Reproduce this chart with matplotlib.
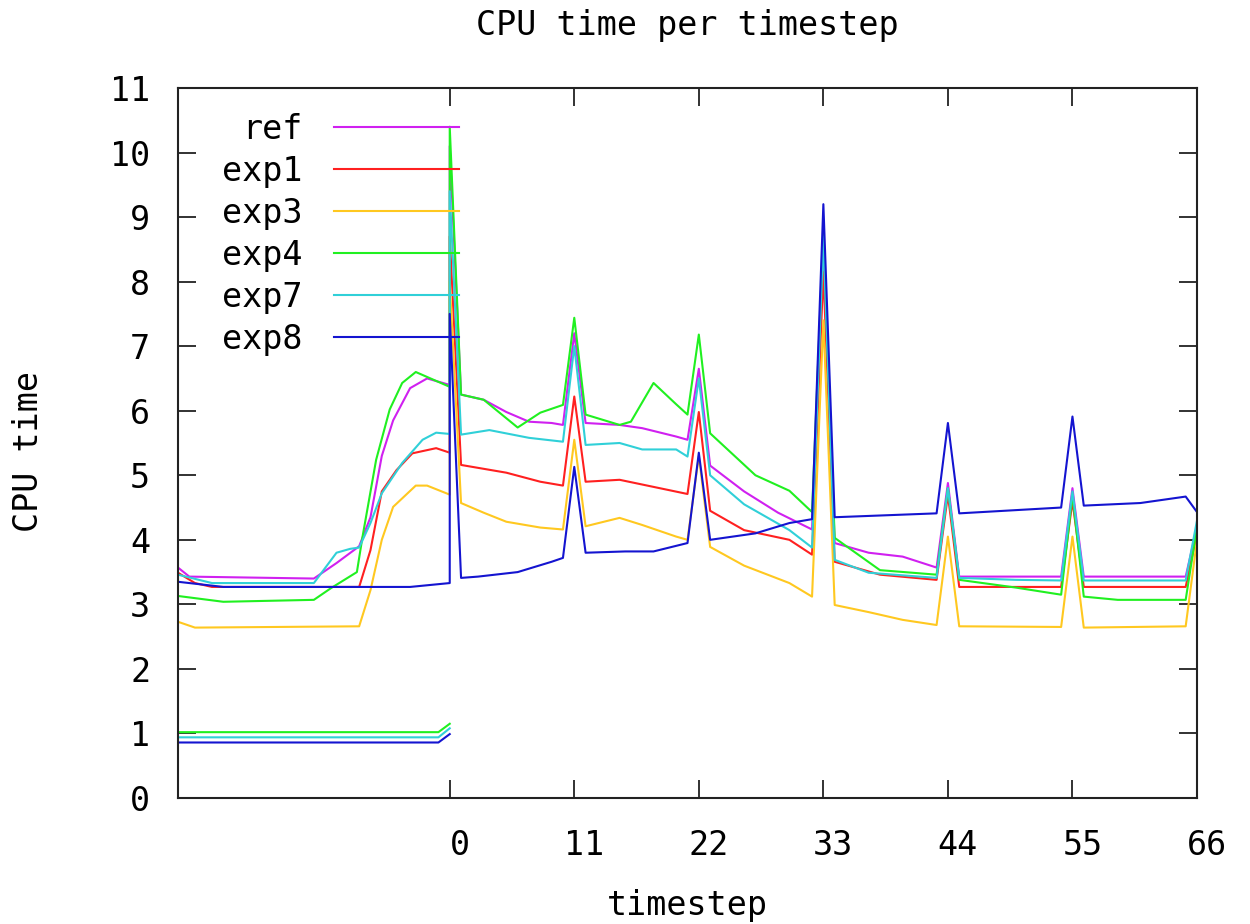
import matplotlib
matplotlib.use("Agg")
import matplotlib.pyplot as plt
from matplotlib.transforms import ScaledTranslation

# breakpoints (timestep, CPU time)
ref_x = [-24, -23, -12, -10, -8, -7, -6, -5, -3.5, -2, 0, 0, 1, 3, 5, 7, 9, 10, 11, 12,
         15, 17, 20, 21, 22, 23, 26, 29, 32, 33, 34, 37, 40, 43, 44, 45, 54, 55, 56, 65, 66]
ref_y = [3.57, 3.43, 3.40, 3.64, 3.90, 4.35, 5.30, 5.85, 6.35, 6.50, 6.40, 10.1, 6.25, 6.17,
         5.98, 5.83, 5.81, 5.78, 7.20, 5.81, 5.78, 5.73, 5.60, 5.55, 6.65, 5.15, 4.75, 4.42,
         4.16, 8.60, 3.95, 3.80, 3.74, 3.57, 4.88, 3.43, 3.43, 4.80, 3.43, 3.43, 4.20]

exp1_x = [-24, -22.5, -21, -8, -7, -6, -4.7, -3.3, -1.2, 0, 0, 1, 5, 8, 10, 11, 12, 15, 18,
          21, 22, 23, 26, 30, 32, 33, 34, 38, 43, 44, 45, 54, 55, 56, 65, 66]
exp1_y = [3.49, 3.33, 3.27, 3.27, 3.84, 4.75, 5.08, 5.34, 5.42, 5.35, 8.70, 5.16, 5.04, 4.90,
          4.84, 6.22, 4.90, 4.93, 4.82, 4.71, 5.98, 4.45, 4.15, 4.00, 3.77, 8.15, 3.66, 3.46,
          3.38, 4.70, 3.27, 3.27, 4.60, 3.27, 3.27, 4.10]

exp3_x = [-24, -22.5, -8, -7, -6, -5, -3, -2, 0, 0, 1, 3, 5, 8, 10, 11, 12, 15, 17, 20, 21,
          22, 23, 26, 30, 32, 33, 34, 37, 40, 43, 44, 45, 54, 55, 56, 65, 66]
exp3_y = [2.73, 2.64, 2.66, 3.22, 4.00, 4.51, 4.84, 4.84, 4.70, 8.00, 4.57, 4.42, 4.28, 4.19,
          4.16, 5.55, 4.21, 4.34, 4.23, 4.05, 4.00, 5.30, 3.89, 3.60, 3.33, 3.12, 7.40, 2.99,
          2.88, 2.76, 2.68, 4.05, 2.66, 2.65, 4.05, 2.64, 2.66, 4.00]

exp4_x = [-24, -20, -12, -10.5, -8.2, -7.7, -6.5, -5.3, -4.2, -3, 0, 0, 1, 3, 6, 8, 10, 11,
          12, 15, 16, 18, 20, 21, 22, 23, 27, 30, 32, 33, 34, 38, 43, 44, 45, 50, 54, 55, 56,
          59, 65, 66]
exp4_y = [3.13, 3.04, 3.07, 3.25, 3.50, 4.05, 5.24, 6.02, 6.43, 6.60, 6.37, 10.4, 6.25, 6.17,
          5.74, 5.97, 6.09, 7.44, 5.94, 5.78, 5.83, 6.43, 6.10, 5.94, 7.18, 5.65, 5.00, 4.76,
          4.43, 8.76, 4.03, 3.53, 3.46, 4.80, 3.38, 3.26, 3.15, 4.70, 3.12, 3.07, 3.07, 4.20]

exp7_x = [-24, -21, -12, -10, -8.8, -8, -7, -6, -4.2, -2.4, -1.2, 0, 0, 1, 3.5, 7, 10, 11,
          12, 15, 17, 20, 21, 22, 23, 26, 30, 32, 33, 34, 37, 43, 44, 45, 50, 54, 55, 56,
          65, 66]
exp7_y = [3.46, 3.33, 3.33, 3.80, 3.86, 3.88, 4.26, 4.72, 5.19, 5.55, 5.66, 5.64, 9.40, 5.63,
          5.70, 5.58, 5.52, 7.00, 5.47, 5.50, 5.40, 5.40, 5.29, 6.50, 5.00, 4.55, 4.15, 3.88,
          8.70, 3.69, 3.49, 3.41, 4.80, 3.41, 3.38, 3.37, 4.75, 3.37, 3.37, 4.30]

exp8_x = [-24, -20, -3.5, 0, 0, 1, 2.5, 6, 9, 10, 11, 12, 15.5, 18, 21, 22, 23, 27, 30, 32,
          33, 34, 37, 43, 44, 45, 50, 54, 55, 56, 61, 65, 66]
exp8_y = [3.35, 3.27, 3.27, 3.33, 7.50, 3.41, 3.43, 3.50, 3.66, 3.72, 5.13, 3.80, 3.82, 3.82,
          3.95, 5.35, 4.00, 4.10, 4.26, 4.32, 9.20, 4.35, 4.37, 4.41, 5.81, 4.41, 4.46, 4.50,
          5.91, 4.53, 4.57, 4.67, 4.43]

# spin-up runs plotted near 1.0
low_x = [-24, -1, 0]
low4_y = [1.02, 1.02, 1.15]
low7_y = [0.94, 0.94, 1.08]
low8_y = [0.86, 0.86, 0.99]

names = ["ref", "exp1", "exp3", "exp4", "exp7", "exp8"]
colors = ["#d020f0", "#ff2020", "#ffc820", "#20f020", "#30d0d8", "#1414d0"]
xticks = [0, 11, 22, 33, 44, 55, 66]

plt.rcParams["font.family"] = ["DejaVu Sans Mono", "DejaVu Sans"]
FS = 24

fig = plt.figure(figsize=(12.5, 9.24), dpi=100)
ax = fig.add_axes([178 / 1250, 1 - 798 / 924, 1019 / 1250, 710 / 924])

series = [(ref_x, ref_y), (exp1_x, exp1_y), (exp3_x, exp3_y),
          (exp4_x, exp4_y), (exp7_x, exp7_y), (exp8_x, exp8_y)]
for (xs, ys), name, c in zip(series, names, colors):
    ax.plot(xs, ys, color=c, lw=1.5, label=name)

ax.plot(low_x, low4_y, color=colors[3], lw=1.5)
ax.plot(low_x, low7_y, color=colors[4], lw=1.5)
ax.plot(low_x, low8_y, color=colors[5], lw=1.5)

ax.set_xlim(-24, 66)
ax.set_ylim(0, 11)
ax.set_xticks(xticks)
ax.set_yticks(range(0, 12))
ax.tick_params(direction="in", length=13, width=1.3, top=True, right=True,
               labelsize=FS, color="#222222")
ax.tick_params(axis="y", pad=20)
ax.tick_params(axis="x", pad=22)
for lab in ax.get_xticklabels():
    lab.set_transform(lab.get_transform() + ScaledTranslation(0.1, 0, fig.dpi_scale_trans))
for s in ax.spines.values():
    s.set_linewidth(1.5)
    s.set_color("#222222")

leg = ax.legend(loc="upper right", bbox_to_anchor=(459 / 1250, 1 - 113 / 924),
                bbox_transform=fig.transFigure, frameon=False, markerfirst=False,
                fontsize=FS, handlelength=3.75, handletextpad=0.95, labelspacing=0.27,
                borderpad=0, borderaxespad=0)

fig.text(687 / 1250, 1 - 25 / 924, "CPU time per timestep", ha="center", va="center",
         fontsize=FS)
fig.text(687 / 1250, 1 - 905 / 924, "timestep", ha="center", va="center", fontsize=FS)
fig.text(28 / 1250, 1 - 451 / 924, "CPU time", ha="center", va="center", rotation=90,
         fontsize=FS)

fig.savefig("out.png", dpi=100)
